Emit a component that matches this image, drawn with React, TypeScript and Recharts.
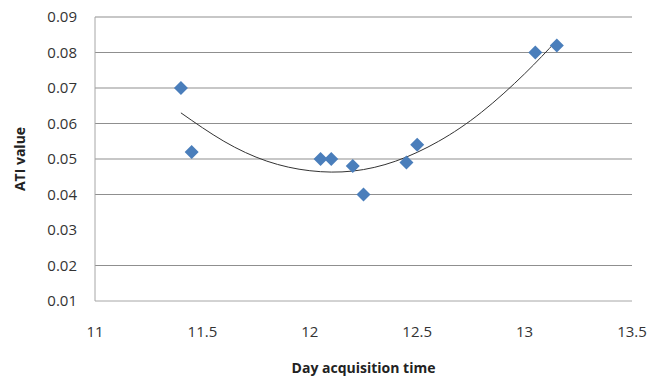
import {
  ComposedChart,
  Scatter,
  Line,
  XAxis,
  YAxis,
  ReferenceLine,
  Label,
} from "recharts";

// ── data ──
const acquisitionTime = [11.4, 11.45, 12.05, 12.1, 12.2, 12.25, 12.45, 12.5, 13.05, 13.15];
const atiValue = [0.07, 0.052, 0.05, 0.05, 0.048, 0.04, 0.049, 0.054, 0.08, 0.082];

// polynomial trendline
const trendTime = [11.4, 11.6, 11.8, 12.0, 12.2, 12.4, 12.6, 12.8, 13.0, 13.15];
const trendValue = [0.063, 0.055, 0.0494, 0.0467, 0.0466, 0.0494, 0.055, 0.0632, 0.074, 0.0834];

const xTicks = [11, 11.5, 12, 12.5, 13, 13.5];
const yTicks = [0.01, 0.02, 0.03, 0.04, 0.05, 0.06, 0.07, 0.08, 0.09];
// the reference has no gridline at 0.03
const gridValues = [0.02, 0.04, 0.05, 0.06, 0.07, 0.08, 0.09];

const points = acquisitionTime.map((x, i) => ({ x, y: atiValue[i] }));
const trend = trendTime.map((x, i) => ({ x, y: trendValue[i] }));

const FONT = "'Open Sans', sans-serif";

const Diamond = ({ cx, cy }: any) => {
  const r = 7;
  return (
    <polygon
      points={`${cx},${cy - r} ${cx + r},${cy} ${cx},${cy + r} ${cx - r},${cy}`}
      fill="#4a7ebb"
    />
  );
};

export default function App() {
  return (
    <div style={{ position: "absolute", left: 0, top: 0, background: "#fff" }}>
      <ComposedChart
        width={648}
        height={379}
        margin={{ top: 17, right: 16, bottom: 0, left: 0 }}
      >
        <XAxis
          type="number"
          dataKey="x"
          domain={[11, 13.5]}
          ticks={xTicks}
          allowDataOverflow
          height={78}
          tickLine={false}
          tickMargin={19}
          axisLine={{ stroke: "#a6a6a6" }}
          tick={{ fill: "#333", fontSize: 15, fontFamily: FONT }}
        >
          <Label
            value="Day acquisition time"
            position="insideBottom"
            offset={6}
            style={{ fill: "#222", fontSize: 14, fontWeight: 700, fontFamily: FONT }}
          />
        </XAxis>
        <YAxis
          type="number"
          dataKey="y"
          domain={[0.01, 0.09]}
          ticks={yTicks}
          allowDataOverflow
          width={95}
          tickLine={false}
          tickMargin={12}
          axisLine={{ stroke: "#a6a6a6" }}
          tickFormatter={(v: number) => v.toFixed(2)}
          tick={{ fill: "#333", fontSize: 15, fontFamily: FONT }}
        >
          <Label
            value="ATI value"
            angle={-90}
            position="insideLeft"
            offset={20}
            style={{
              fill: "#222",
              fontSize: 14,
              fontWeight: 700,
              fontFamily: FONT,
              textAnchor: "middle",
            }}
          />
        </YAxis>
        {gridValues.map((v) => (
          <ReferenceLine key={v} y={v} stroke="#8f8f8f" strokeWidth={1} />
        ))}
        <Line
          data={trend}
          dataKey="y"
          type="natural"
          stroke="#333"
          strokeWidth={1}
          dot={false}
          activeDot={false}
          isAnimationActive={false}
        />
        <Scatter data={points} shape={<Diamond />} isAnimationActive={false} />
      </ComposedChart>
    </div>
  );
}
